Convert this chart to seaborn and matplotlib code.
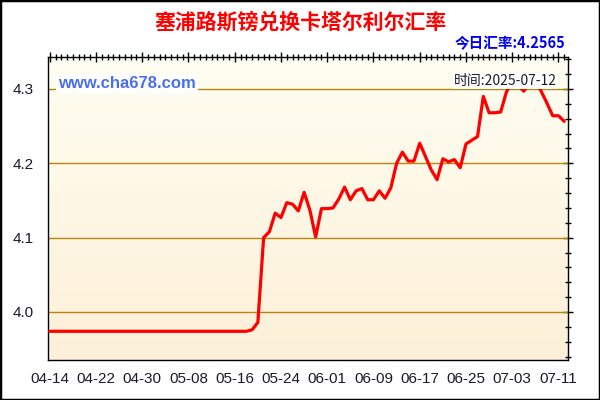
import numpy as np
import pandas as pd
import matplotlib
matplotlib.use("Agg")
import matplotlib.pyplot as plt
import seaborn as sns
from matplotlib.ticker import MultipleLocator, FixedLocator
from matplotlib.patches import Rectangle

# data (daily, 2025-04-14 .. 2025-07-12)
dates = pd.date_range("2025-04-14", "2025-07-12", freq="D")
rates = [3.974] * 35 + [
    3.976, 3.986, 4.100, 4.108, 4.133, 4.127, 4.147, 4.145, 4.136, 4.161,
    4.137, 4.101, 4.139, 4.139, 4.140, 4.152, 4.168, 4.151, 4.163, 4.166,
    4.151, 4.151, 4.163, 4.153, 4.167, 4.200, 4.215, 4.203, 4.203, 4.227,
    4.209, 4.191, 4.178, 4.206, 4.202, 4.205, 4.194, 4.226, 4.231, 4.236,
    4.290, 4.268, 4.268, 4.269, 4.296, 4.310, 4.305, 4.297, 4.308, 4.310,
    4.297, 4.281, 4.264, 4.264, 4.2565,
]
tick_days = [0, 8, 16, 24, 32, 40, 48, 56, 64, 72, 80, 88]
tick_labels = ["04-14", "04-22", "04-30", "05-08", "05-16", "05-24",
               "06-01", "06-09", "06-17", "06-25", "07-03", "07-11"]
y_ticks = [4.0, 4.1, 4.2, 4.3]

title = "塞浦路斯镑兑换卡塔尔利尔汇率"
today_text = "今日汇率:4.2565"
site_text = "www.cha678.com"
time_text = "时间:2025-07-12"

df = pd.DataFrame({"day": np.arange(len(dates)), "rate": rates})

sns.set_style("white")
plt.rcParams["font.family"] = ["Liberation Sans", "Noto Sans CJK SC", "DejaVu Sans"]

fig = plt.figure(figsize=(6, 4), dpi=100)
fig.patch.set_facecolor("white")
ax = fig.add_axes([0.08, 0.10, 0.8667, 0.7575])

# cream gradient background
grad = np.linspace(0, 1, 256).reshape(-1, 1)
top = np.array([255, 254, 242]) / 255
bottom = np.array([253, 240, 216]) / 255
img = top + (bottom - top) * grad[:, :, None]
ax.imshow(img, extent=[0, 1, 0, 1], transform=ax.transAxes,
          aspect="auto", zorder=0)

for y in y_ticks:
    ax.axhline(y, color="#b8860b", linewidth=1, zorder=1)

sns.lineplot(data=df, x="day", y="rate", ax=ax, color="#ff0000",
             linewidth=2.3, zorder=3)

ax.set_xlim(-0.3, 89.65)
ax.set_ylim(3.9354, 4.343)
ax.set_xlabel("")
ax.set_ylabel("")

ax.xaxis.set_major_locator(FixedLocator(tick_days))
ax.set_xticklabels(tick_labels)
ax.xaxis.set_minor_locator(MultipleLocator(1))
ax.yaxis.set_major_locator(FixedLocator(y_ticks))
ax.set_yticklabels([f"{v:.1f}" for v in y_ticks])
ax.yaxis.set_minor_locator(MultipleLocator(0.02))

ax.tick_params(which="both", direction="inout", top=True, right=True,
               color="black", labelsize=11, labelcolor="#1a1a2a")
ax.tick_params(axis="x", pad=5)
ax.tick_params(axis="y", pad=7)
ax.tick_params(which="major", length=7, width=1)
ax.tick_params(which="minor", length=4, width=1)
for s in ax.spines.values():
    s.set_color("black")
    s.set_linewidth(1)

ax.text(0.019, 0.911, site_text, transform=ax.transAxes, color="#4a6ef0",
        fontsize=12, fontweight="bold", va="center", ha="left", zorder=5,
        bbox=dict(facecolor="white", edgecolor="none", pad=1.5))
ax.text(0.979, 0.921, time_text, transform=ax.transAxes, color="#1a1a2a",
        fontsize=10, va="center", ha="right", zorder=5,
        family=["Noto Sans CJK SC", "DejaVu Sans"],
        bbox=dict(facecolor="white", edgecolor="none", pad=1))

fig.text(0.5, 0.945, title, color="#ff0000", fontsize=15, fontweight="bold",
         ha="center", va="center", family=["Noto Sans CJK SC", "DejaVu Sans"])
fig.text(0.942, 0.893, today_text, color="#0000ee", fontsize=10.5,
         fontweight="bold", ha="right", va="center",
         family=["Noto Sans CJK SC", "DejaVu Sans"])

fig.patches.append(Rectangle((0, 0), 1, 1, transform=fig.transFigure,
                             fill=False, edgecolor="black", linewidth=2.5))

fig.savefig("out.png", dpi=100)
